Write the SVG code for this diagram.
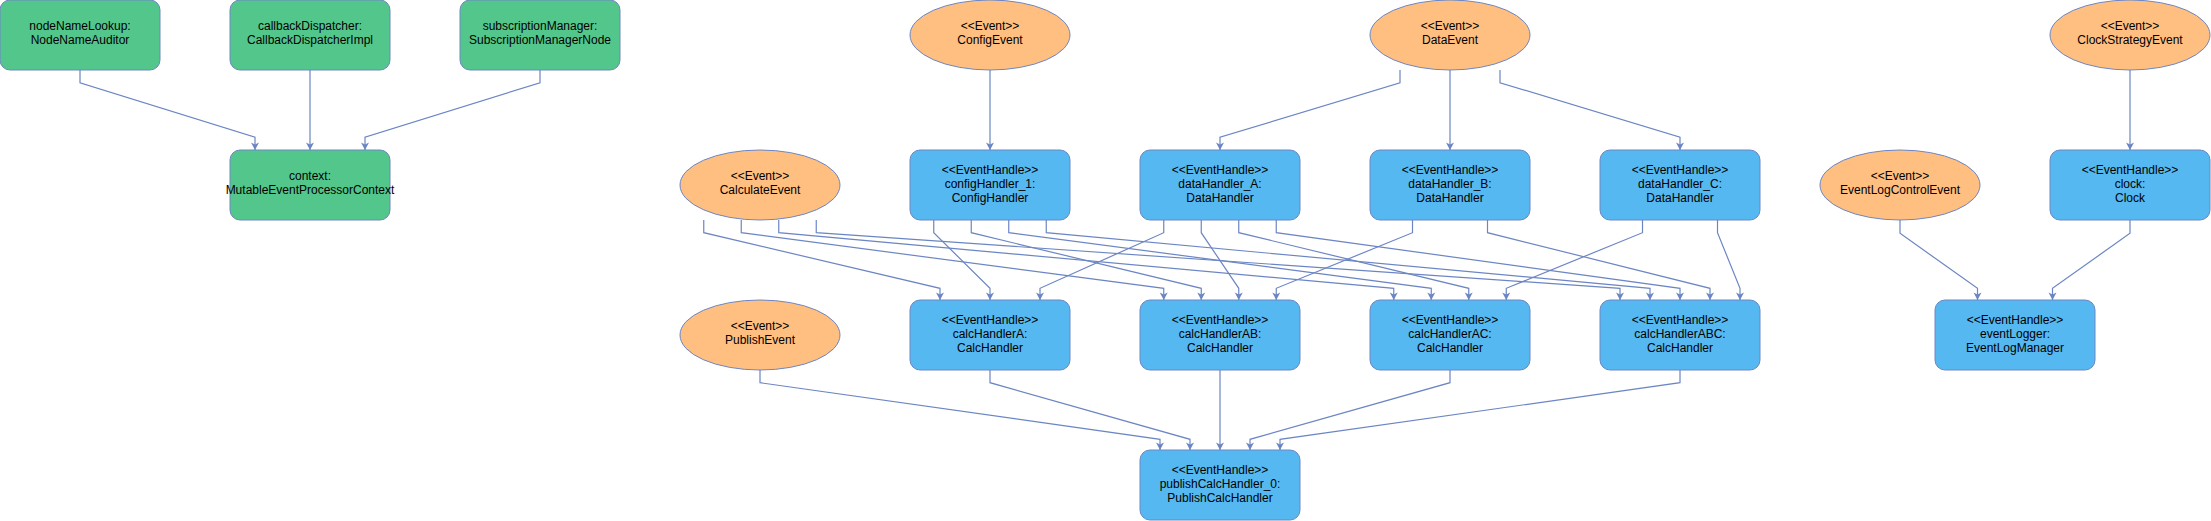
<svg xmlns="http://www.w3.org/2000/svg" width="2211" height="521" viewBox="0 0 2211 521">
<style>
.g{fill:#53C68C;stroke:#6C86C4;stroke-width:1}
.b{fill:#55B8F0;stroke:#6C86C4;stroke-width:1}
.o{fill:#FFBF80;stroke:#6C86C4;stroke-width:1}
text{font-family:"Liberation Sans",Arial,sans-serif;font-size:12px;fill:#000;text-anchor:middle}
.e{fill:none;stroke:#6C86C4;stroke-width:1.2;marker-end:url(#arr)}
</style>
<defs>
<marker id="arr" viewBox="-8 -5 9 10" markerWidth="9" markerHeight="10" refX="0" refY="0" orient="auto" markerUnits="userSpaceOnUse">
<path d="M0,0 L-7.5,-4 L-5.5,0 L-7.5,4 Z" fill="#6C86C4"/>
</marker>
</defs>
<rect width="2211" height="521" fill="#fff"/>
<g id="connectors">
<path class="e" d="M80,70 V82.7 L255,137.3 V150"/>
<path class="e" d="M310,70 V150"/>
<path class="e" d="M540,70 V82.7 L365,137.3 V150"/>
<path class="e" d="M990,70 V150"/>
<path class="e" d="M1400,70 V82.7 L1220,137.3 V150"/>
<path class="e" d="M1450,70 V150"/>
<path class="e" d="M1500,70 V82.7 L1680,137.3 V150"/>
<path class="e" d="M2130,70 V150"/>
<path class="e" d="M1900,220 V233.3 L1977.5,288.3 V300"/>
<path class="e" d="M2130,220 V233.3 L2052.5,288.3 V300"/>
<path class="e" d="M703.75,220 V232.7 L940,288.3 V300"/>
<path class="e" d="M741.25,220 V232.7 L1163.75,288.3 V300"/>
<path class="e" d="M778.75,220 V232.7 L1393.75,288.3 V300"/>
<path class="e" d="M816.25,220 V232.7 L1620,288.3 V300"/>
<path class="e" d="M933.75,220 V232.7 L990,288.3 V300"/>
<path class="e" d="M971.25,220 V232.7 L1201.25,288.3 V300"/>
<path class="e" d="M1008.75,220 V232.7 L1431.25,288.3 V300"/>
<path class="e" d="M1046.25,220 V232.7 L1650,288.3 V300"/>
<path class="e" d="M1163.75,220 V232.7 L1040,288.3 V300"/>
<path class="e" d="M1201.25,220 V232.7 L1238.75,288.3 V300"/>
<path class="e" d="M1238.75,220 V232.7 L1468.75,288.3 V300"/>
<path class="e" d="M1276.25,220 V232.7 L1680,288.3 V300"/>
<path class="e" d="M1412.5,220 V232.7 L1276.25,288.3 V300"/>
<path class="e" d="M1487.5,220 V232.7 L1710,288.3 V300"/>
<path class="e" d="M1642.5,220 V232.7 L1506.25,288.3 V300"/>
<path class="e" d="M1717.5,220 V232.7 L1740,288.3 V300"/>
<path class="e" d="M760,370 V382.7 L1160,439.3 V450"/>
<path class="e" d="M990,370 V382.7 L1190,439.3 V450"/>
<path class="e" d="M1220,370 V450"/>
<path class="e" d="M1450,370 V382.7 L1250,439.3 V450"/>
<path class="e" d="M1680,370 V382.7 L1280,439.3 V450"/>
</g>
<g id="nodeNameLookup"><rect class="g" x="0" y="0" width="160" height="70" rx="10"/><text x="80" y="30.3">nodeNameLookup:</text><text x="80" y="44.3">NodeNameAuditor</text></g>
<g id="callbackDispatcher"><rect class="g" x="230" y="0" width="160" height="70" rx="10"/><text x="310" y="30.3">callbackDispatcher:</text><text x="310" y="44.3">CallbackDispatcherImpl</text></g>
<g id="subscriptionManager"><rect class="g" x="460" y="0" width="160" height="70" rx="10"/><text x="540" y="30.3">subscriptionManager:</text><text x="540" y="44.3">SubscriptionManagerNode</text></g>
<g id="context"><rect class="g" x="230" y="150" width="160" height="70" rx="10"/><text x="310" y="180.3">context:</text><text x="310" y="194.3">MutableEventProcessorContext</text></g>
<g id="ConfigEvent"><ellipse class="o" cx="990" cy="35" rx="80" ry="35"/><text x="990" y="30.3">&lt;&lt;Event&gt;&gt;</text><text x="990" y="44.3">ConfigEvent</text></g>
<g id="DataEvent"><ellipse class="o" cx="1450" cy="35" rx="80" ry="35"/><text x="1450" y="30.3">&lt;&lt;Event&gt;&gt;</text><text x="1450" y="44.3">DataEvent</text></g>
<g id="ClockStrategyEvent"><ellipse class="o" cx="2130" cy="35" rx="80" ry="35"/><text x="2130" y="30.3">&lt;&lt;Event&gt;&gt;</text><text x="2130" y="44.3">ClockStrategyEvent</text></g>
<g id="CalculateEvent"><ellipse class="o" cx="760" cy="185" rx="80" ry="35"/><text x="760" y="180.3">&lt;&lt;Event&gt;&gt;</text><text x="760" y="194.3">CalculateEvent</text></g>
<g id="EventLogControlEvent"><ellipse class="o" cx="1900" cy="185" rx="80" ry="35"/><text x="1900" y="180.3">&lt;&lt;Event&gt;&gt;</text><text x="1900" y="194.3">EventLogControlEvent</text></g>
<g id="PublishEvent"><ellipse class="o" cx="760" cy="335" rx="80" ry="35"/><text x="760" y="330.3">&lt;&lt;Event&gt;&gt;</text><text x="760" y="344.3">PublishEvent</text></g>
<g id="configHandler_1"><rect class="b" x="910" y="150" width="160" height="70" rx="10"/><text x="990" y="173.6">&lt;&lt;EventHandle&gt;&gt;</text><text x="990" y="187.6">configHandler_1:</text><text x="990" y="201.6">ConfigHandler</text></g>
<g id="dataHandler_A"><rect class="b" x="1140" y="150" width="160" height="70" rx="10"/><text x="1220" y="173.6">&lt;&lt;EventHandle&gt;&gt;</text><text x="1220" y="187.6">dataHandler_A:</text><text x="1220" y="201.6">DataHandler</text></g>
<g id="dataHandler_B"><rect class="b" x="1370" y="150" width="160" height="70" rx="10"/><text x="1450" y="173.6">&lt;&lt;EventHandle&gt;&gt;</text><text x="1450" y="187.6">dataHandler_B:</text><text x="1450" y="201.6">DataHandler</text></g>
<g id="dataHandler_C"><rect class="b" x="1600" y="150" width="160" height="70" rx="10"/><text x="1680" y="173.6">&lt;&lt;EventHandle&gt;&gt;</text><text x="1680" y="187.6">dataHandler_C:</text><text x="1680" y="201.6">DataHandler</text></g>
<g id="clock"><rect class="b" x="2050" y="150" width="160" height="70" rx="10"/><text x="2130" y="173.6">&lt;&lt;EventHandle&gt;&gt;</text><text x="2130" y="187.6">clock:</text><text x="2130" y="201.6">Clock</text></g>
<g id="calcHandlerA"><rect class="b" x="910" y="300" width="160" height="70" rx="10"/><text x="990" y="323.6">&lt;&lt;EventHandle&gt;&gt;</text><text x="990" y="337.6">calcHandlerA:</text><text x="990" y="351.6">CalcHandler</text></g>
<g id="calcHandlerAB"><rect class="b" x="1140" y="300" width="160" height="70" rx="10"/><text x="1220" y="323.6">&lt;&lt;EventHandle&gt;&gt;</text><text x="1220" y="337.6">calcHandlerAB:</text><text x="1220" y="351.6">CalcHandler</text></g>
<g id="calcHandlerAC"><rect class="b" x="1370" y="300" width="160" height="70" rx="10"/><text x="1450" y="323.6">&lt;&lt;EventHandle&gt;&gt;</text><text x="1450" y="337.6">calcHandlerAC:</text><text x="1450" y="351.6">CalcHandler</text></g>
<g id="calcHandlerABC"><rect class="b" x="1600" y="300" width="160" height="70" rx="10"/><text x="1680" y="323.6">&lt;&lt;EventHandle&gt;&gt;</text><text x="1680" y="337.6">calcHandlerABC:</text><text x="1680" y="351.6">CalcHandler</text></g>
<g id="eventLogger"><rect class="b" x="1935" y="300" width="160" height="70" rx="10"/><text x="2015" y="323.6">&lt;&lt;EventHandle&gt;&gt;</text><text x="2015" y="337.6">eventLogger:</text><text x="2015" y="351.6">EventLogManager</text></g>
<g id="publishCalcHandler_0"><rect class="b" x="1140" y="450" width="160" height="70" rx="10"/><text x="1220" y="473.6">&lt;&lt;EventHandle&gt;&gt;</text><text x="1220" y="487.6">publishCalcHandler_0:</text><text x="1220" y="501.6">PublishCalcHandler</text></g>
</svg>
